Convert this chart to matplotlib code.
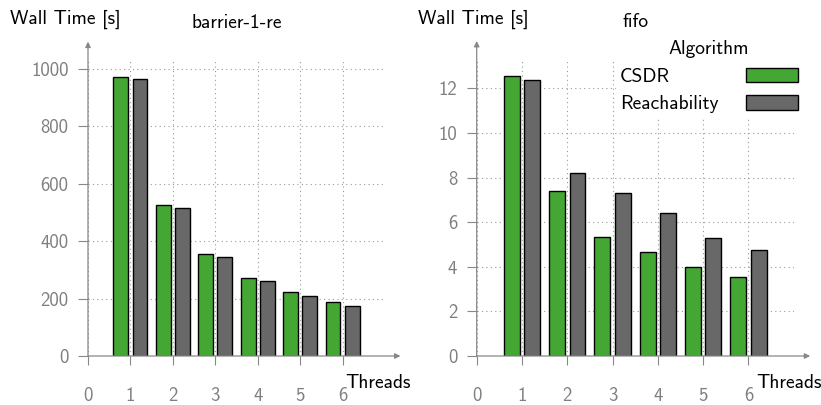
import matplotlib
matplotlib.use('Agg')
import matplotlib.pyplot as plt
from matplotlib.patches import Patch
import numpy as np

plt.rcParams['font.family'] = ['cmss10', 'DejaVu Sans']
plt.rcParams['axes.unicode_minus'] = False

# Data
threads = [1, 2, 3, 4, 5, 6]
barrier_csdr = [972, 526, 354, 271, 221, 187]
barrier_reach = [965, 516, 343, 260, 208, 175]
fifo_csdr = [12.57, 7.42, 5.34, 4.66, 3.99, 3.53]
fifo_reach = [12.36, 8.21, 7.31, 6.40, 5.31, 4.77]

GREEN = '#45a733'
GRAY = '#686868'
AXIS = '#888888'
TICK = '#7f7f7f'
FS = 14


def draw_panel(ax, csdr, reach, title, ymax, yticks):
    x = np.array(threads)
    w = 0.35
    ax.bar(x - 0.225, csdr, w, color=GREEN, edgecolor='black', linewidth=1.0, zorder=3)
    ax.bar(x + 0.225, reach, w, color=GRAY, edgecolor='black', linewidth=1.0, zorder=3)

    ax.set_xlim(0, 7.0)
    ax.set_ylim(0, ymax)
    ax.set_xticks(range(0, 7))
    ax.set_yticks(yticks)
    for s in ax.spines.values():
        s.set_visible(False)
    ax.grid(True, linestyle=(0, (1, 3)), color='#999999', linewidth=0.8, zorder=0)
    ax.tick_params(axis='y', colors=AXIS, labelcolor=TICK, length=7, width=0.8,
                   pad=7, labelsize=13.5)
    ax.tick_params(axis='x', colors=AXIS, labelcolor=TICK, length=6.5, width=0.8,
                   pad=15.5, labelsize=13.5)

    # axis arrows
    arrow = dict(arrowstyle='-|>', color=AXIS, lw=0.9, mutation_scale=8,
                 shrinkA=0, shrinkB=0)
    ax.annotate('', xy=(0, 1.062), xytext=(0, 0), xycoords='axes fraction',
                textcoords='axes fraction', arrowprops=arrow, annotation_clip=False)
    ax.annotate('', xy=(1.052, 0), xytext=(0, 0), xycoords='axes fraction',
                textcoords='axes fraction', arrowprops=arrow, annotation_clip=False)

    ax.text(1.087, -0.091, 'Threads', transform=ax.transAxes, ha='right',
            va='center', fontsize=FS)
    ax.text(0.5, 1.125, title, transform=ax.transAxes, ha='center',
            va='center', fontsize=FS)


fig = plt.figure(figsize=(8.21, 4.05), dpi=100)

ax1 = fig.add_axes([88 / 821, 49 / 405, 297 / 821, 296 / 405])
draw_panel(ax1, barrier_csdr, barrier_reach, 'barrier-1-re', 1030,
           [0, 200, 400, 600, 800, 1000])
ax1.text(-0.263, 1.138, 'Wall Time [s]', transform=ax1.transAxes, ha='left',
         va='center', fontsize=FS)

ax2 = fig.add_axes([476.7 / 821, 49 / 405, 317 / 821, 296.6 / 405])
draw_panel(ax2, fifo_csdr, fifo_reach, 'fifo', 13.3,
           [0, 2, 4, 6, 8, 10, 12])
ax2.text(-0.185, 1.135, 'Wall Time [s]', transform=ax2.transAxes, ha='left',
         va='center', fontsize=FS)

handles = [Patch(facecolor=GREEN, edgecolor='black', linewidth=1.0),
           Patch(facecolor=GRAY, edgecolor='black', linewidth=1.0)]
leg = ax2.legend(handles, ['CSDR', 'Reachability'], title='Algorithm',
                 loc='upper right', bbox_to_anchor=(802 / 821, 1 - 36 / 405),
                 bbox_transform=fig.transFigure, markerfirst=False,
                 fontsize=FS, title_fontsize=FS, frameon=True, framealpha=1,
                 edgecolor='none', fancybox=False, borderpad=0.2,
                 handlelength=2.7, handleheight=0.78, handletextpad=1.4,
                 labelspacing=0.5, borderaxespad=0)

# left-align the legend labels (handles stay on the right)
fig.canvas.draw()
r = fig.canvas.get_renderer()
items = leg._legend_handle_box.get_children()[0].get_children()
widths = [t.get_window_extent(r).width for t in leg.get_texts()]
dpicor = r.points_to_pixels(1.)
for item, wd in zip(items, widths):
    item.sep = leg.handletextpad * FS + (max(widths) - wd) / dpicor

fig.savefig('out.png', dpi=100, facecolor='white')
